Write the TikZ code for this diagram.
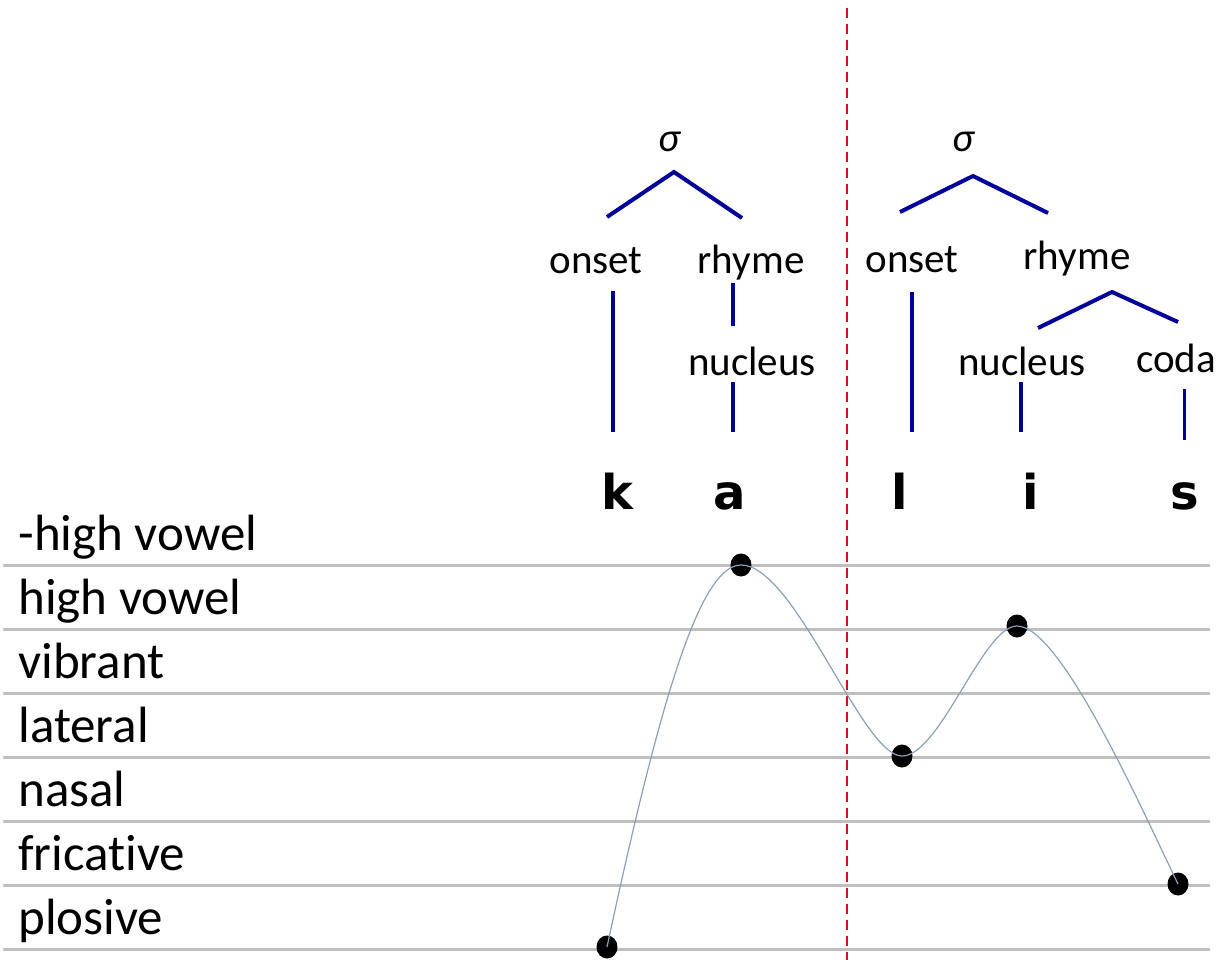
\documentclass[tikz,border=0pt]{standalone}
\usepackage{fontspec}
\setmainfont{Carlito}[Ligatures=NoCommon]
\newfontfamily\segfont{DejaVu Sans}
\usetikzlibrary{calc, shapes.geometric}
\definecolor{treeBlue}{RGB}{0, 0, 153}
\definecolor{gridGrey}{RGB}{191, 191, 191}
\definecolor{curveGrey}{RGB}{140, 160, 185}
\definecolor{cutRed}{RGB}{210, 20, 20}

\begin{document}
\begin{tikzpicture}[x=0.5pt, y=-0.5pt,
    level/.style={anchor=base west, inner sep=0pt, font=\fontsize{25.5}{30}\selectfont},
    constit/.style={anchor=base, inner sep=0pt, font=\fontsize{20.5}{24}\selectfont},
    sig/.style={constit, font=\fontsize{20.5}{24}\selectfont\itshape},
    segment/.style={anchor=base, inner sep=0pt, font=\fontsize{24}{28}\selectfont\segfont\bfseries},
    dot/.style={ellipse, fill=black, inner sep=0pt, minimum width=10.5pt, minimum height=11.5pt},
    branch/.style={treeBlue, line width=2pt},
    grid/.style={gridGrey, line width=1.5pt}]
    \useasboundingbox (0,0) rectangle (1223,960);
    \def\gap{64}
    % sonority levels
    \foreach \txt [count=\i] in {-high vowel, high vowel, vibrant, lateral, nasal, fricative, plosive} {
        \draw[grid] (3,{565+\gap*(\i-1)}) -- (1210,{565+\gap*(\i-1)});
        \node[level] (lev\i) at (18,{550+\gap*(\i-1)}) {\txt};
    }
    % syllable boundary
    \draw[cutRed, line width=1pt, dash pattern=on 5pt off 3pt] (847,8) -- (847,960);
    % segments
    \node[segment] (k) at (617,509) {k};
    \node[segment] (a) at (730,509) {a};
    \node[segment] (l) at (900,509) {l};
    \node[segment] (i) at (1031,509) {i};
    \node[segment] (s) at (1185,509) {s};
    % sonority curve
    \node[dot] (dk) at (607,947) {};
    \node[dot] (da) at (741,565) {};
    \node[dot] (dl) at (902,756) {};
    \node[dot] (di) at (1017,626) {};
    \node[dot] (ds) at (1178,884) {};
    \draw[curveGrey, line width=0.6pt]
        (dk.center) .. controls +(53,-247) and +(-41,0) .. (da.center)
        .. controls +(54,0) and +(-40,0) .. (dl.center)
        .. controls +(38,0) and +(-34,0) .. (di.center)
        .. controls +(43,0) and +(-40,-83) .. (ds.center);
    % first syllable
    \node[sig] (sigA) at (669,151) {σ};
    \node[constit] (onA) at (596,273) {onset};
    \node[constit] (rhA) at (751,273) {rhyme};
    \node[constit] (nuA) at (752,375) {nucleus};
    \coordinate (topA) at (674,172);
    \coordinate (brA1) at (607,217);
    \coordinate (brA2) at (742,218);
    \draw[branch] (brA1) -- (topA) -- (brA2);
    \coordinate (onA1) at (613,291); \coordinate (onA2) at (613,432);
    \coordinate (rhA1) at (733,283); \coordinate (rhA2) at (733,326);
    \coordinate (nuA1) at (733,382); \coordinate (nuA2) at (733,432);
    \draw[branch] (onA1) -- (onA2);
    \draw[branch] (rhA1) -- (rhA2);
    \draw[branch] (nuA1) -- (nuA2);
    % second syllable
    \node[sig] (sigB) at (963,151) {σ};
    \node[constit] (onB) at (912,272) {onset};
    \node[constit] (rhB) at (1077,269) {rhyme};
    \node[constit] (nuB) at (1022,375) {nucleus};
    \node[constit] (coB) at (1176,372) {coda};
    \coordinate (topB) at (973,176);
    \coordinate (brB1) at (900,212);
    \coordinate (brB2) at (1048,213);
    \draw[branch] (brB1) -- (topB) -- (brB2);
    \coordinate (topR) at (1112,292);
    \coordinate (brR1) at (1038,328);
    \coordinate (brR2) at (1178,322);
    \draw[branch] (brR1) -- (topR) -- (brR2);
    \coordinate (onB1) at (912,292); \coordinate (onB2) at (912,432);
    \coordinate (nuB1) at (1021,382); \coordinate (nuB2) at (1021,432);
    \coordinate (coB1) at (1184,389); \coordinate (coB2) at (1184,440);
    \draw[branch] (onB1) -- (onB2);
    \draw[branch] (nuB1) -- (nuB2);
    \draw[branch, line width=1.5pt] (coB1) -- (coB2);
\end{tikzpicture}
\end{document}
